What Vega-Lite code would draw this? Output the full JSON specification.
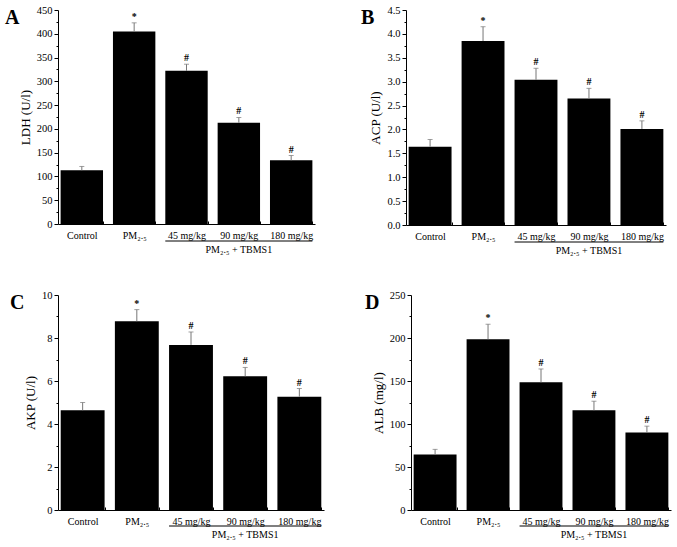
{
  "$schema": "https://vega.github.io/schema/vega-lite/v6.json",
  "background": "white",
  "padding": {"left": 5, "top": 5, "right": 5, "bottom": 2},
  "datasets": {
    "A": [
      {"group": "Control", "value": 113, "upper": 121, "sig": ""},
      {"group": "PM₂.₅", "value": 405, "upper": 423, "sig": "*"},
      {"group": "45 mg/kg", "value": 322, "upper": 336, "sig": "#"},
      {"group": "90 mg/kg", "value": 213, "upper": 224, "sig": "#"},
      {"group": "180 mg/kg", "value": 134, "upper": 144, "sig": "#"}
    ],
    "B": [
      {"group": "Control", "value": 1.64, "upper": 1.79, "sig": ""},
      {"group": "PM₂.₅", "value": 3.85, "upper": 4.15, "sig": "*"},
      {"group": "45 mg/kg", "value": 3.04, "upper": 3.28, "sig": "#"},
      {"group": "90 mg/kg", "value": 2.65, "upper": 2.86, "sig": "#"},
      {"group": "180 mg/kg", "value": 2.01, "upper": 2.18, "sig": "#"}
    ],
    "C": [
      {"group": "Control", "value": 4.64, "upper": 5.0, "sig": ""},
      {"group": "PM₂.₅", "value": 8.78, "upper": 9.32, "sig": "*"},
      {"group": "45 mg/kg", "value": 7.68, "upper": 8.28, "sig": "#"},
      {"group": "90 mg/kg", "value": 6.22, "upper": 6.63, "sig": "#"},
      {"group": "180 mg/kg", "value": 5.27, "upper": 5.65, "sig": "#"}
    ],
    "D": [
      {"group": "Control", "value": 64.5, "upper": 70.5, "sig": ""},
      {"group": "PM₂.₅", "value": 198.5, "upper": 216, "sig": "*"},
      {"group": "45 mg/kg", "value": 148.5, "upper": 164, "sig": "#"},
      {"group": "90 mg/kg", "value": 116, "upper": 126.5, "sig": "#"},
      {"group": "180 mg/kg", "value": 90, "upper": 97.5, "sig": "#"}
    ],
    "grp": [
      {"from": "45 mg/kg", "to": "180 mg/kg", "mid": "90 mg/kg", "label": "PM₂.₅ + TBMS1"}
    ]
  },
  "config": {
    "font": "Liberation Serif",
    "view": {"stroke": null},
    "axis": {"grid": false, "domainColor": "black", "tickColor": "black", "labelColor": "black", "titleColor": "black", "labelFont": "Liberation Serif", "titleFont": "Liberation Serif", "titleFontWeight": "normal"},
    "axisY": {"labelFontSize": 10.5, "titleFontSize": 13, "labelPadding": 2, "titlePadding": 4, "tickSize": 4},
    "axisX": {"labelFontSize": 10, "labelAngle": 0, "title": null, "tickBand": "extent", "tickSize": -3, "labelPadding": 9},
    "title": {"font": "Liberation Serif", "fontSize": 20, "fontWeight": "bold", "color": "black", "orient": "top", "anchor": "start", "frame": "group", "baseline": "top", "align": "left", "offset": 0, "dy": 27}
  },
  "columns": 1,
  "align": "none",
  "spacing": 34,
  "concat": [
    {
      "spacing": 46,
      "hconcat": [
        {
          "title": {"text": "A", "dx": -53},
          "width": 257, "height": 214,
          "resolve": {"axis": {"y": "independent"}},
          "layer": [
            {
              "data": {"name": "A"},
              "mark": {"type": "bar", "color": "black"},
              "encoding": {
                "x": {"field": "group", "type": "nominal", "sort": null, "scale": {"domain": ["Control", "PM₂.₅", "45 mg/kg", "90 mg/kg", "180 mg/kg"], "paddingInner": 0.19, "paddingOuter": 0.05}},
                "y": {"field": "value", "type": "quantitative", "scale": {"domain": [0, 450], "nice": false}, "axis": {"title": "LDH (U/l)", "values": [0,50,100,150,200,250,300,350,400,450]}}
              }
            },
            {
              "data": {"name": "A"},
              "mark": {"type": "rule", "color": "#777", "strokeWidth": 1},
              "encoding": {"x": {"field": "group", "type": "nominal", "sort": null}, "y": {"field": "value", "type": "quantitative", "axis": {"orient": "left", "title": null, "labels": false, "domain": false, "tickSize": 2, "values": [25,75,125,175,225,275,325,375,425]}}, "y2": {"field": "upper"}}
            },
            {
              "data": {"name": "A"},
              "mark": {"type": "tick", "color": "#777", "size": 5, "thickness": 1},
              "encoding": {"x": {"field": "group", "type": "nominal", "sort": null}, "y": {"field": "upper", "type": "quantitative", "axis": null}}
            },
            {
              "data": {"name": "A"},
              "mark": {"type": "text", "fontSize": 10, "fontWeight": "bold", "baseline": "alphabetic", "dy": -3},
              "encoding": {"x": {"field": "group", "type": "nominal", "sort": null}, "y": {"field": "upper", "type": "quantitative", "axis": null}, "text": {"field": "sig"}}
            },
            {
              "data": {"name": "grp"},
              "mark": {"type": "rule", "color": "black", "strokeWidth": 1, "yOffset": 17},
              "encoding": {"x": {"field": "from", "type": "nominal", "bandPosition": 0}, "x2": {"field": "to", "bandPosition": 1}, "y": {"value": "height"}}
            },
            {
              "data": {"name": "grp"},
              "mark": {"type": "text", "fontSize": 10, "baseline": "top", "yOffset": 21},
              "encoding": {"x": {"field": "mid", "type": "nominal"}, "y": {"value": "height"}, "text": {"field": "label"}}
            }
          ]
        },
        {
          "title": {"text": "B", "dx": -45},
          "width": 260, "height": 215,
          "resolve": {"axis": {"y": "independent"}},
          "layer": [
            {
              "data": {"name": "B"},
              "mark": {"type": "bar", "color": "black"},
              "encoding": {
                "x": {"field": "group", "type": "nominal", "sort": null, "scale": {"domain": ["Control", "PM₂.₅", "45 mg/kg", "90 mg/kg", "180 mg/kg"], "paddingInner": 0.19, "paddingOuter": 0.05}},
                "y": {"field": "value", "type": "quantitative", "scale": {"domain": [0, 4.5], "nice": false}, "axis": {"title": "ACP (U/l)", "format": ".1f", "values": [0,0.5,1,1.5,2,2.5,3,3.5,4,4.5]}}
              }
            },
            {
              "data": {"name": "B"},
              "mark": {"type": "rule", "color": "#777", "strokeWidth": 1},
              "encoding": {"x": {"field": "group", "type": "nominal", "sort": null}, "y": {"field": "value", "type": "quantitative", "axis": {"orient": "left", "title": null, "labels": false, "domain": false, "tickSize": 2, "values": [0.25,0.75,1.25,1.75,2.25,2.75,3.25,3.75,4.25]}}, "y2": {"field": "upper"}}
            },
            {
              "data": {"name": "B"},
              "mark": {"type": "tick", "color": "#777", "size": 5, "thickness": 1},
              "encoding": {"x": {"field": "group", "type": "nominal", "sort": null}, "y": {"field": "upper", "type": "quantitative", "axis": null}}
            },
            {
              "data": {"name": "B"},
              "mark": {"type": "text", "fontSize": 10, "fontWeight": "bold", "baseline": "alphabetic", "dy": -3},
              "encoding": {"x": {"field": "group", "type": "nominal", "sort": null}, "y": {"field": "upper", "type": "quantitative", "axis": null}, "text": {"field": "sig"}}
            },
            {
              "data": {"name": "grp"},
              "mark": {"type": "rule", "color": "black", "strokeWidth": 1, "yOffset": 17},
              "encoding": {"x": {"field": "from", "type": "nominal", "bandPosition": 0}, "x2": {"field": "to", "bandPosition": 1}, "y": {"value": "height"}}
            },
            {
              "data": {"name": "grp"},
              "mark": {"type": "text", "fontSize": 10, "baseline": "top", "yOffset": 21},
              "encoding": {"x": {"field": "mid", "type": "nominal"}, "y": {"value": "height"}, "text": {"field": "label"}}
            }
          ]
        }
      ]
    },
    {
      "spacing": 41,
      "hconcat": [
        {
          "title": {"text": "C", "dx": -48},
          "width": 266, "height": 215,
          "resolve": {"axis": {"y": "independent"}},
          "layer": [
            {
              "data": {"name": "C"},
              "mark": {"type": "bar", "color": "black"},
              "encoding": {
                "x": {"field": "group", "type": "nominal", "sort": null, "scale": {"domain": ["Control", "PM₂.₅", "45 mg/kg", "90 mg/kg", "180 mg/kg"], "paddingInner": 0.19, "paddingOuter": 0.05}},
                "y": {"field": "value", "type": "quantitative", "scale": {"domain": [0, 10], "nice": false}, "axis": {"title": "AKP (U/l)", "values": [0,2,4,6,8,10]}}
              }
            },
            {
              "data": {"name": "C"},
              "mark": {"type": "rule", "color": "#777", "strokeWidth": 1},
              "encoding": {"x": {"field": "group", "type": "nominal", "sort": null}, "y": {"field": "value", "type": "quantitative", "axis": {"orient": "left", "title": null, "labels": false, "domain": false, "tickSize": 2, "values": [1,3,5,7,9]}}, "y2": {"field": "upper"}}
            },
            {
              "data": {"name": "C"},
              "mark": {"type": "tick", "color": "#777", "size": 5, "thickness": 1},
              "encoding": {"x": {"field": "group", "type": "nominal", "sort": null}, "y": {"field": "upper", "type": "quantitative", "axis": null}}
            },
            {
              "data": {"name": "C"},
              "mark": {"type": "text", "fontSize": 10, "fontWeight": "bold", "baseline": "alphabetic", "dy": -3},
              "encoding": {"x": {"field": "group", "type": "nominal", "sort": null}, "y": {"field": "upper", "type": "quantitative", "axis": null}, "text": {"field": "sig"}}
            },
            {
              "data": {"name": "grp"},
              "mark": {"type": "rule", "color": "black", "strokeWidth": 1, "yOffset": 16},
              "encoding": {"x": {"field": "from", "type": "nominal", "bandPosition": 0}, "x2": {"field": "to", "bandPosition": 1}, "y": {"value": "height"}}
            },
            {
              "data": {"name": "grp"},
              "mark": {"type": "text", "fontSize": 10, "baseline": "top", "yOffset": 20},
              "encoding": {"x": {"field": "mid", "type": "nominal"}, "y": {"value": "height"}, "text": {"field": "label"}}
            }
          ]
        },
        {
          "title": {"text": "D", "dx": -46},
          "width": 260, "height": 215,
          "resolve": {"axis": {"y": "independent"}},
          "layer": [
            {
              "data": {"name": "D"},
              "mark": {"type": "bar", "color": "black"},
              "encoding": {
                "x": {"field": "group", "type": "nominal", "sort": null, "scale": {"domain": ["Control", "PM₂.₅", "45 mg/kg", "90 mg/kg", "180 mg/kg"], "paddingInner": 0.19, "paddingOuter": 0.05}},
                "y": {"field": "value", "type": "quantitative", "scale": {"domain": [0, 250], "nice": false}, "axis": {"title": "ALB (mg/l)", "values": [0,50,100,150,200,250]}}
              }
            },
            {
              "data": {"name": "D"},
              "mark": {"type": "rule", "color": "#777", "strokeWidth": 1},
              "encoding": {"x": {"field": "group", "type": "nominal", "sort": null}, "y": {"field": "value", "type": "quantitative", "axis": {"orient": "left", "title": null, "labels": false, "domain": false, "tickSize": 2, "values": [25,75,125,175,225]}}, "y2": {"field": "upper"}}
            },
            {
              "data": {"name": "D"},
              "mark": {"type": "tick", "color": "#777", "size": 5, "thickness": 1},
              "encoding": {"x": {"field": "group", "type": "nominal", "sort": null}, "y": {"field": "upper", "type": "quantitative", "axis": null}}
            },
            {
              "data": {"name": "D"},
              "mark": {"type": "text", "fontSize": 10, "fontWeight": "bold", "baseline": "alphabetic", "dy": -3},
              "encoding": {"x": {"field": "group", "type": "nominal", "sort": null}, "y": {"field": "upper", "type": "quantitative", "axis": null}, "text": {"field": "sig"}}
            },
            {
              "data": {"name": "grp"},
              "mark": {"type": "rule", "color": "black", "strokeWidth": 1, "yOffset": 16},
              "encoding": {"x": {"field": "from", "type": "nominal", "bandPosition": 0}, "x2": {"field": "to", "bandPosition": 1}, "y": {"value": "height"}}
            },
            {
              "data": {"name": "grp"},
              "mark": {"type": "text", "fontSize": 10, "baseline": "top", "yOffset": 20},
              "encoding": {"x": {"field": "mid", "type": "nominal"}, "y": {"value": "height"}, "text": {"field": "label"}}
            }
          ]
        }
      ]
    }
  ]
}
